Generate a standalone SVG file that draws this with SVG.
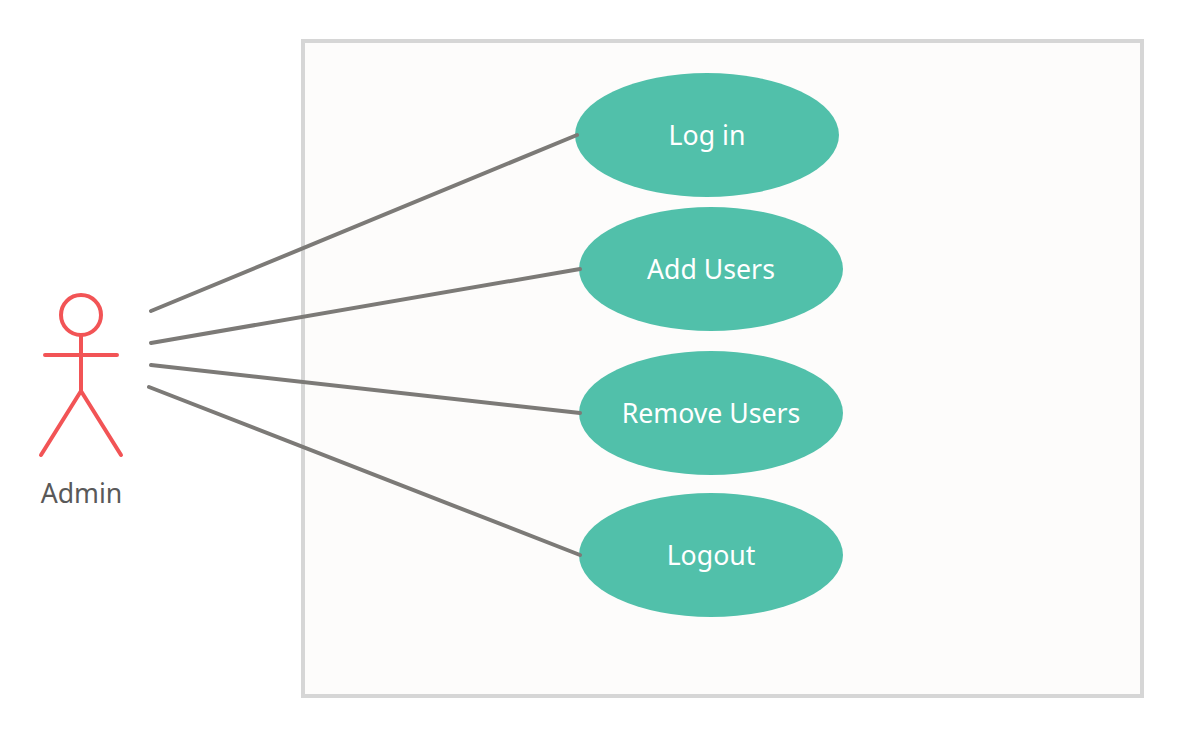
<svg xmlns="http://www.w3.org/2000/svg" width="1181" height="735" viewBox="0 0 1181 735">
<style>
.uc{fill:#51c0aa}
.ut{fill:#fff;font-family:"Noto Sans","Open Sans",sans-serif;font-size:26.67px;text-anchor:middle}
.c{stroke:#7c7a77;stroke-width:4;stroke-linecap:round;fill:none}
.a{stroke:#f25456;stroke-width:4;stroke-linecap:round;stroke-linejoin:round;fill:none}
</style>
<rect width="1181" height="735" fill="#fff"/>
<rect id="boundary" x="303" y="41" width="839" height="655" fill="#fdfcfb" stroke="#d6d6d6" stroke-width="4"/>
<g id="login"><ellipse class="uc" cx="707" cy="135" rx="132" ry="62"/><text class="ut" x="707" y="145">Log in</text></g>
<g id="addusers"><ellipse class="uc" cx="711" cy="269" rx="132" ry="62"/><text class="ut" x="711" y="279">Add Users</text></g>
<g id="removeusers"><ellipse class="uc" cx="711" cy="413" rx="132" ry="62"/><text class="ut" x="711" y="423">Remove Users</text></g>
<g id="logout"><ellipse class="uc" cx="711" cy="555" rx="132" ry="62"/><text class="ut" x="711" y="565">Logout</text></g>
<g id="connectors">
<line class="c" x1="151" y1="311" x2="577" y2="135"/>
<line class="c" x1="151" y1="343" x2="580" y2="269"/>
<line class="c" x1="151" y1="365" x2="580" y2="413"/>
<line class="c" x1="149" y1="387" x2="580" y2="555"/>
</g>
<g id="admin">
<circle class="a" cx="81" cy="315" r="20"/>
<path class="a" d="M81 335V391M45 355H117M81 391L41 455M81 391L121 455"/>
<text x="81.500" y="503" font-family="'Noto Sans','Open Sans',sans-serif" font-size="26.67" fill="#595959" text-anchor="middle">Admin</text>
</g>
</svg>
